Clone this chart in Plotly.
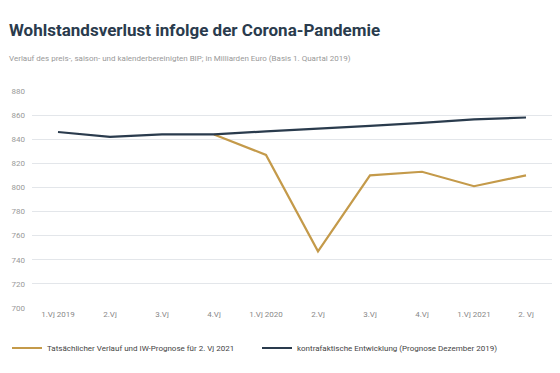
import plotly.graph_objects as go

categories = ["1.Vj 2019", "2.Vj", "3.Vj", "4.Vj", "1.Vj 2020", "2.Vj", "3.Vj", "4.Vj", "1.Vj 2021", "2. Vj"]
actual = [None, None, None, 844, 827, 747, 810, 813, 801, 810]
counterfactual = [846, 842, 844, 844, 846.5, 848.5, 851, 853.5, 856.5, 858]
yticks = [700, 720, 740, 760, 780, 800, 820, 840, 860, 880]

GOLD = "#c49a4a"
NAVY = "#2a3b4d"
FONT = "Roboto, Open Sans, sans-serif"
x = list(range(len(categories)))

fig = go.Figure()
fig.add_trace(go.Scatter(x=x, y=actual, mode="lines", name="Tatsächlicher Verlauf und IW-Prognose für 2. Vj 2021",
                         line=dict(color=GOLD, width=2.2), connectgaps=False))
fig.add_trace(go.Scatter(x=x, y=counterfactual, mode="lines", name="kontrafaktische Entwicklung (Prognose Dezember 2019)",
                         line=dict(color=NAVY, width=2.2)))

fig.update_layout(
    width=560, height=373,
    margin=dict(l=32, r=8, t=91, b=65, autoexpand=False),
    paper_bgcolor="white", plot_bgcolor="white",
    font=dict(family=FONT, color="#888888"),
    showlegend=True,
    legend=dict(orientation="h", x=0.0125, xref="container", xanchor="left",
                y=0.067, yref="container", yanchor="middle",
                font=dict(size=8, color="#444444", family=FONT),
                itemwidth=30, entrywidth=205, entrywidthmode="pixels", traceorder="normal",
                bgcolor="rgba(0,0,0,0)"),
    xaxis=dict(tickmode="array", tickvals=x, ticktext=categories, range=[-0.5, 9.5],
               showgrid=False, zeroline=False, showline=False, ticks="",
               tickfont=dict(size=8, color="#888888"), automargin=False),
    yaxis=dict(range=[700, 880], tickvals=yticks, showgrid=True, gridcolor="#e3e6ea", gridwidth=1,
               zeroline=False, showline=False, ticks="", tickfont=dict(size=8, color="#999999"),
               ticklabelstandoff=6, automargin=False),
)

fig.add_annotation(text="<b>Wohlstandsverlust infolge der Corona-Pandemie</b>", xref="paper", yref="paper",
                   x=0, xshift=-25, y=1, yshift=91 - 30, xanchor="left", yanchor="middle", showarrow=False,
                   font=dict(size=17, color="#2a3b4d", family=FONT))
fig.add_annotation(text="Verlauf des preis-, saison- und kalenderbereinigten BIP; in Milliarden Euro (Basis 1. Quartal 2019)",
                   xref="paper", yref="paper", x=0, xshift=-25, y=1, yshift=91 - 58, xanchor="left", yanchor="middle",
                   showarrow=False, font=dict(size=8, color="#999999", family=FONT))

fig.write_html("out.html", config={"displayModeBar": False},
               post_script="document.body.style.margin='0';")
